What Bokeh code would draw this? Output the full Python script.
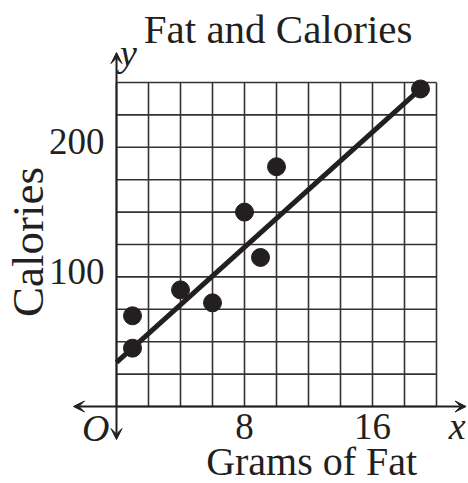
from bokeh.plotting import figure
from bokeh.models import Arrow, VeeHead, Range1d
from bokeh.core.properties import value
from bokeh.embed import file_html
from bokeh.resources import INLINE

# ---- data ----
fat = [1, 1, 4, 6, 8, 9, 10, 19]
calories = [70, 45, 90, 80, 150, 115, 185, 245]
fit_x = [0, 19]
fit_y = [34, 245]
x_ticks = [8, 16]
x_tick_labels = ["8", "16"]
y_ticks = [100, 200]
y_tick_labels = ["100", "200"]
grid_x = list(range(0, 21, 2))
grid_y = list(range(0, 251, 25))
title_text = "Fat and Calories"
x_label = "Grams of Fat"
y_label = "Calories"

INK = "#231f20"
GRID = "#333333"
FONT = value("Liberation Serif")

W, H = 468, 483
p = figure(width=W, height=H, output_backend="svg", toolbar_location=None,
           x_axis_location=None, y_axis_location=None,
           x_range=Range1d(-7.25, 22.0), y_range=Range1d(-59.41, 313.27),
           min_border=0, outline_line_color=None)
p.grid.visible = False
p.background_fill_color = "white"

xmin, xmax = grid_x[0], grid_x[-1]
ymin, ymax = grid_y[0], grid_y[-1]

# grid
p.segment(x0=grid_x, y0=[ymin] * len(grid_x), x1=grid_x, y1=[ymax] * len(grid_x),
          line_color=GRID, line_width=1.6)
p.segment(x0=[xmin] * len(grid_y), y0=grid_y, x1=[xmax] * len(grid_y), y1=grid_y,
          line_color=GRID, line_width=1.6)

# axes with arrows
head = dict(size=11, line_color=INK, fill_color=INK, line_width=1)
for xe, ye in [(21.85, 0), (-2.69, 0), (0, 273.1), (0, -25.5)]:
    p.add_layout(Arrow(x_start=0, y_start=0, x_end=xe, y_end=ye, line_width=2,
                       line_color=INK, end=VeeHead(**head)))

# fit line and points
p.line(fit_x, fit_y, line_color=INK, line_width=5)
p.scatter(fat, calories, size=18, fill_color=INK, line_color=INK)

# tick labels
p.text(x=x_ticks, y=[-15.1] * len(x_ticks), text=x_tick_labels, text_font=FONT,
       text_font_size=value("37px"), text_align="center", text_baseline="alphabetic",
       text_color=INK)
p.text(x=[-0.75] * len(y_ticks), y=[t + 4.1 for t in y_ticks], text=y_tick_labels,
       text_font=FONT, text_font_size=value("37px"), text_align="right",
       text_baseline="alphabetic", text_color=INK)

# axis letters
p.text(x=[-1.3], y=[-16.4], text=["O"], text_font=FONT, text_font_style="italic",
       text_font_size=value("38px"), text_align="center", text_baseline="alphabetic",
       text_color=INK)
p.text(x=[21.3], y=[-15.1], text=["x"], text_font=FONT, text_font_style="italic",
       text_font_size=value("38px"), text_align="center", text_baseline="alphabetic",
       text_color=INK)
p.text(x=[0.75], y=[272.5], text=["y"], text_font=FONT, text_font_style="italic",
       text_font_size=value("38px"), text_align="center", text_baseline="alphabetic",
       text_color=INK)

# titles
p.text(x=[10.1], y=[291.5], text=[title_text], text_font=FONT,
       text_font_size=value("41px"), text_align="center", text_baseline="alphabetic",
       text_color=INK)
p.text(x=[12.2], y=[-42.6], text=[x_label], text_font=FONT,
       text_font_size=value("40px"), text_align="center", text_baseline="alphabetic",
       text_color=INK)
p.text(x=[-5.56], y=[126.9], text=[y_label], text_font=FONT, angle=1.5707963,
       text_font_size=value("45px"), text_align="center", text_baseline="alphabetic",
       text_color=INK)

open("out.html", "w").write(file_html(p, INLINE))
